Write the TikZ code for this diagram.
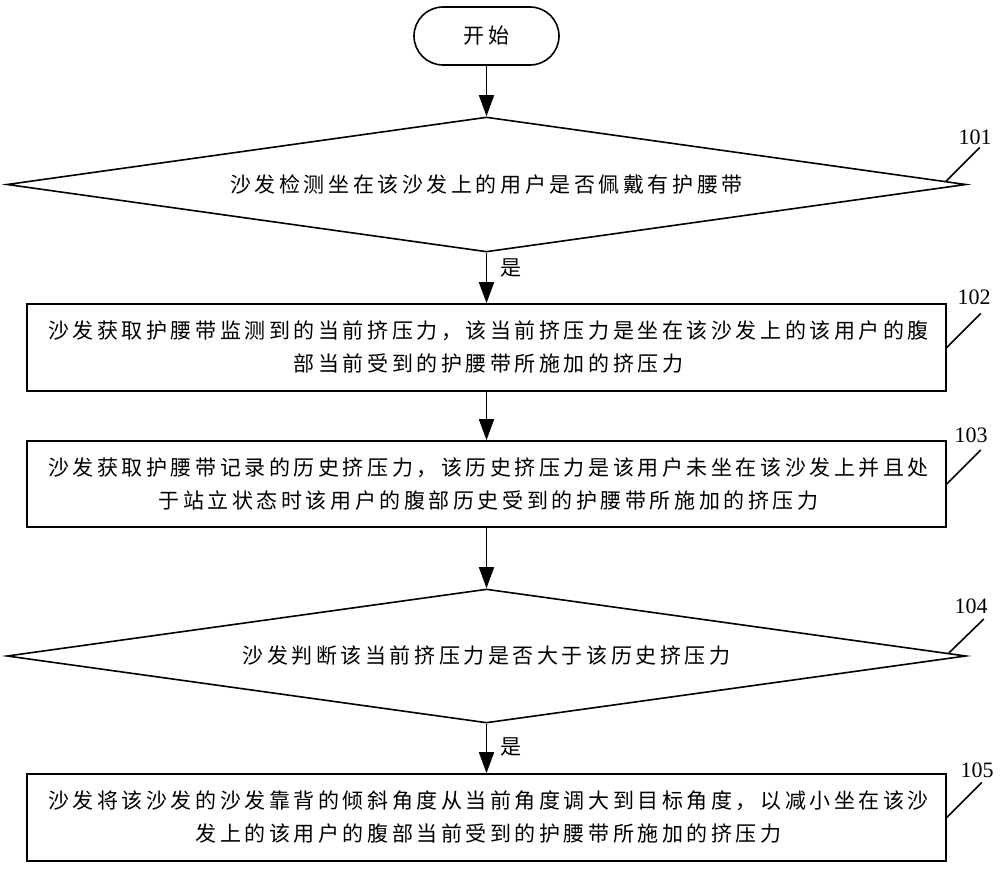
\documentclass[tikz,border=0pt]{standalone}
\usepackage{fontspec}
\newfontfamily\cjk{Noto Sans CJK SC}[LetterSpace=17]
\newfontfamily\numfont{Liberation Serif}
\usetikzlibrary{arrows.meta,shapes.geometric,calc}
\tikzset{
  txt/.style={font=\cjk\fontsize{21}{33}\selectfont},
  stepbox/.style={draw, line width=1.6pt, minimum width=919pt, minimum height=87pt, inner sep=0pt, align=center, txt},
  decision/.style={draw, diamond, line width=1.6pt, minimum width=959pt, minimum height=135pt, inner sep=0pt, shape aspect=7, txt},
  terminal/.style={draw, line width=1.6pt, rounded corners=29pt, minimum width=145pt, minimum height=58pt, inner sep=0pt, txt},
  arr/.style={line width=1.6pt, -{Triangle[length=21pt,width=15pt]}},
  lead/.style={line width=1.6pt},
  num/.style={font=\numfont\fontsize{22}{22}\selectfont, inner sep=0pt}
}
\begin{document}
\begin{tikzpicture}[x=1pt,y=-1pt]
\useasboundingbox (0,0) rectangle (1000,869);
\fill[white] (0,0) rectangle (1000,869);

\node[terminal] (start) at (486.5,36) {开始};
\node[decision] (d1) at (486.5,184.5) {沙发检测坐在该沙发上的用户是否佩戴有护腰带};
\node[stepbox] (b1) at (486.5,347.5) {\hspace{4pt}沙发获取护腰带监测到的当前挤压力，该当前挤压力是坐在该沙发上的该用户的腹\\\hspace{4pt}部当前受到的护腰带所施加的挤压力};
\node[stepbox, minimum height=86pt] (b2) at (486.5,484) {\hspace{4pt}沙发获取护腰带记录的历史挤压力，该历史挤压力是该用户未坐在该沙发上并且处\\\hspace{4pt}于站立状态时该用户的腹部历史受到的护腰带所施加的挤压力};
\node[decision, minimum height=134pt] (d2) at (486.5,656) {沙发判断该当前挤压力是否大于该历史挤压力};
\node[stepbox] (b3) at (486.5,817.5) {\hspace{4pt}沙发将该沙发的沙发靠背的倾斜角度从当前角度调大到目标角度，以减小坐在该沙\\\hspace{4pt}发上的该用户的腹部当前受到的护腰带所施加的挤压力};

\draw[arr] (start.south) -- (d1.north);
\draw[arr] (d1.south) -- (b1.north);
\draw[arr] (b1.south) -- (b2.north);
\draw[arr] (b2.south) -- (d2.north);
\draw[arr] (d2.south) -- (b3.north);

\node[txt, inner sep=0pt] (y1) at (511,268) {是};
\node[txt, inner sep=0pt] (y2) at (511,747) {是};

\node[num] (l101) at (975,137) {101};
\node[num] (l102) at (974,297) {102};
\node[num] (l103) at (971,435) {103};
\node[num] (l104) at (971,606) {104};
\node[num] (l105) at (977,770) {105};

\draw[lead] ($(d1.east)+(-21,-3)$) -- ++(34,-34);
\draw[lead] (b1.east) -- ++(34,-34);
\draw[lead] (b2.east) -- ++(34,-34);
\draw[lead] ($(d2.east)+(-18,-3)$) -- ++(35,-34);
\draw[lead] (b3.east) -- ++(35,-35);
\end{tikzpicture}
\end{document}
